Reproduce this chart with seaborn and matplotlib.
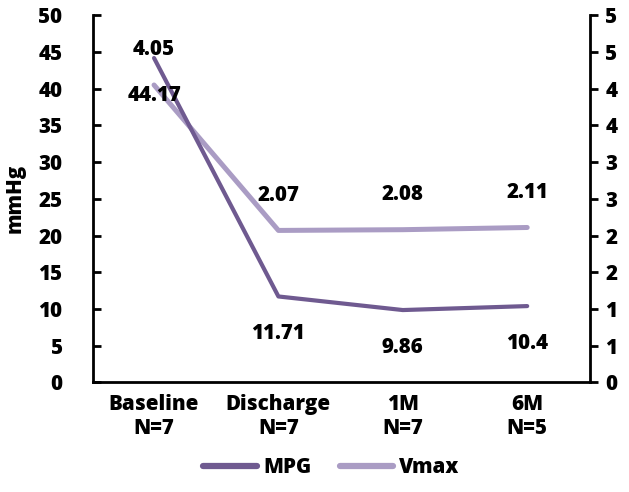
import matplotlib
matplotlib.use("Agg")
import matplotlib.pyplot as plt
import seaborn as sns
import pandas as pd
from matplotlib.lines import Line2D

categories = ["Baseline\nN=7", "Discharge\nN=7", "1M\nN=7", "6M\nN=5"]
mpg = [44.17, 11.71, 9.86, 10.4]
vmax = [4.05, 2.07, 2.08, 2.11]
left_ticks = [0, 5, 10, 15, 20, 25, 30, 35, 40, 45, 50]
right_ticks = [0, 0.5, 1, 1.5, 2, 2.5, 3, 3.5, 4, 4.5, 5]
right_labels = ["0", "1", "1", "2", "2", "3", "3", "4", "4", "5", "5"]

sns.set_style("white")
plt.rcParams['font.family'] = ['Open Sans', 'DejaVu Sans']
plt.rcParams['font.weight'] = 'heavy'
plt.rcParams['text.color'] = 'black'
plt.rcParams['axes.labelcolor'] = 'black'

c_mpg = "#6f5a90"
c_vmax = "#aa9cc4"
fs = 14.8
fw = 'heavy'

df = pd.DataFrame({"pos": range(len(categories)), "MPG": mpg, "Vmax": vmax})

fig = plt.figure(figsize=(6.29, 4.92), dpi=100)
ax = fig.add_axes([0.148, 0.2226, 0.790, 0.7465])
ax2 = ax.twinx()

sns.lineplot(data=df, x="pos", y="MPG", ax=ax, color=c_mpg, linewidth=3.0, zorder=3)
sns.lineplot(data=df, x="pos", y="Vmax", ax=ax2, color=c_vmax, linewidth=3.6, zorder=2)
ax.set_zorder(ax2.get_zorder() + 1)
ax.patch.set_visible(False)

ax.set_xlim(-0.49, 3.505)
ax.set_ylim(0, 50)
ax2.set_ylim(0, 5)
ax.set_xticks(range(len(categories)))
ax.set_xticklabels(categories, fontsize=fs, fontweight=fw)
ax.set_yticks(left_ticks)
ax.set_yticklabels([str(t) for t in left_ticks], fontsize=fs, fontweight=fw)
ax2.set_yticks(right_ticks)
ax2.set_yticklabels(right_labels, fontsize=fs, fontweight=fw)
ax.set_xlabel("")
ax.set_ylabel("mmHg", fontsize=fs, fontweight=fw)
ax.yaxis.set_label_coords(-0.135, 0.5)
ax2.set_ylabel("")

for a in (ax, ax2):
    for s in a.spines.values():
        s.set_linewidth(2.0)
        s.set_color("black")
    a.spines['top'].set_visible(False)
ax.spines['right'].set_visible(False)
ax2.spines['left'].set_visible(False)
ax2.spines['bottom'].set_visible(False)

ax.tick_params(axis='y', direction='in', length=6, width=2, pad=22, colors='black')
ax.tick_params(axis='x', direction='in', length=5, width=2, pad=8, colors='black')
ax2.tick_params(axis='y', direction='out', length=6, width=2, pad=5, colors='black')

for i, v in enumerate(vmax):
    ax2.annotate(f"{v:.2f}", (i, v), xytext=(0, 35), textcoords='offset pixels',
                 ha='center', va='center', fontsize=fs, fontweight=fw)
for i, v in enumerate(mpg):
    ax.annotate(f"{v:g}", (i, v), xytext=(0, -37), textcoords='offset pixels',
                ha='center', va='center', fontsize=fs, fontweight=fw)

handles = [Line2D([], [], color=c_mpg, linewidth=4.5, solid_capstyle='round'),
           Line2D([], [], color=c_vmax, linewidth=4.5, solid_capstyle='round')]
fig.legend(handles, ["MPG", "Vmax"], loc='lower center', bbox_to_anchor=(0.527, -0.01), ncol=2,
           frameon=False, prop={'size': fs, 'weight': fw}, handlelength=2.6,
           handletextpad=0.3, columnspacing=1.4)

fig.savefig("out.png", dpi=100)
